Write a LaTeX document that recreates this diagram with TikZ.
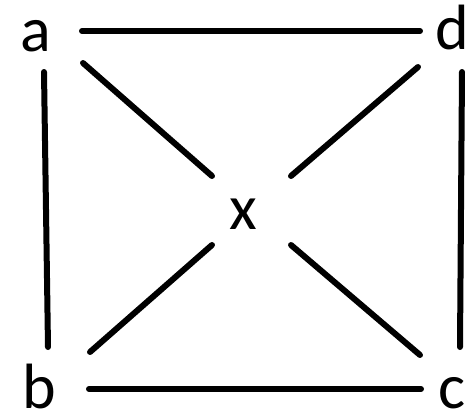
\documentclass[tikz,border=0pt]{standalone}
\usepackage{fontspec}
\setmainfont{Carlito}
\usetikzlibrary{calc}
\begin{document}
\begin{tikzpicture}[x=1pt,y=-1pt,
  lbl/.style={inner sep=0pt,font=\fontsize{64}{64}\selectfont},
  edge/.style={line width=6pt,line cap=round,draw=black}]
\useasboundingbox (0,0) rectangle (467,413);
\node[lbl] (a) at (36,36) {a};
\node[lbl] (d) at (452,27.5) {d};
\node[lbl] (b) at (39.5,386) {b};
\node[lbl] (c) at (452,393) {c};
\node[lbl] (x) at (243,214.5) {x};
\draw[edge] ($(a)+(46,-5)$) -- ($(d)+(-32,3.5)$);
\draw[edge] ($(a)+(8,36)$) -- ($(b)+(8.5,-39)$);
\draw[edge] ($(d)+(10,44.5)$) -- ($(c)+(8,-46)$);
\draw[edge] ($(b)+(49.5,3)$) -- ($(c)+(-31,-4)$);
\draw[edge] ($(a)+(47,27)$) -- ($(x)+(-31,-38.5)$);
\draw[edge] ($(x)+(48,-38.5)$) -- ($(d)+(-34,39.5)$);
\draw[edge] ($(x)+(-31,30.5)$) -- ($(b)+(50.5,-34)$);
\draw[edge] ($(x)+(48,30.5)$) -- ($(c)+(-32,-38)$);
\end{tikzpicture}
\end{document}
